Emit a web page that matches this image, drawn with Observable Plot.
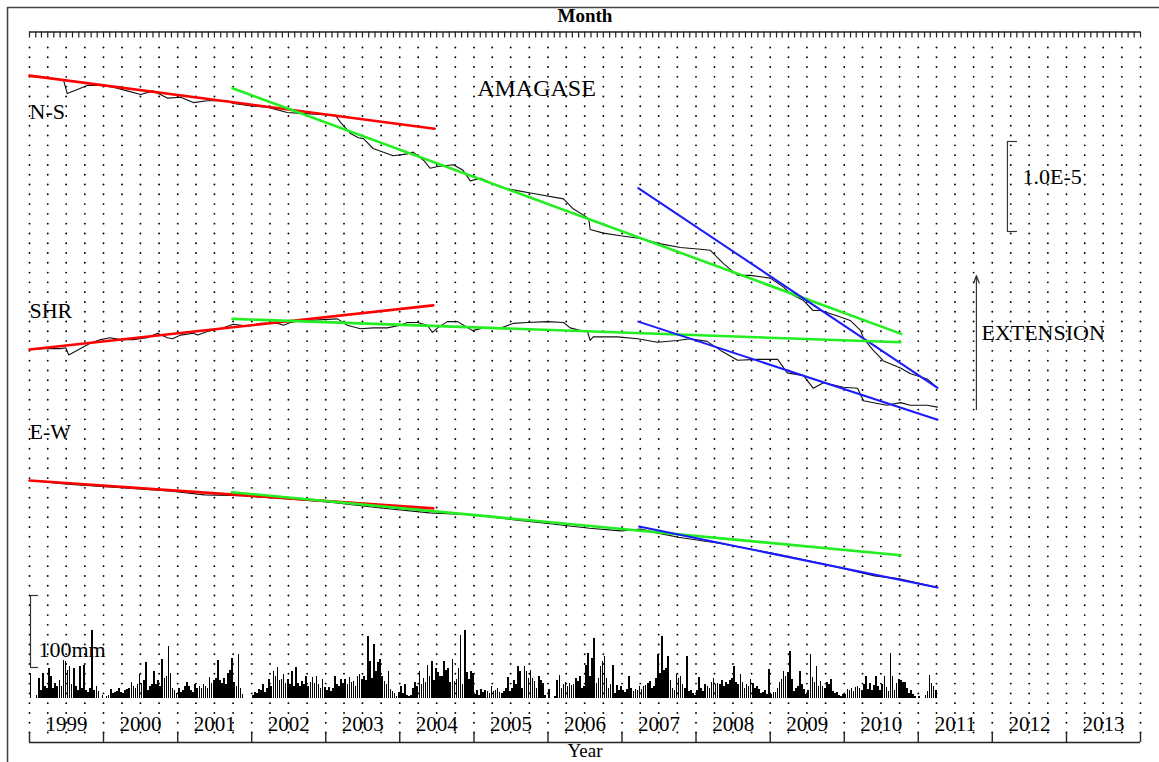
<!DOCTYPE html>
<html><head><meta charset="utf-8">
<script src="https://cdn.jsdelivr.net/npm/d3@7"></script>
<script src="https://cdn.jsdelivr.net/npm/@observablehq/plot@0.6"></script>
<style>body{margin:0;background:#fff;} svg{display:block}</style>
</head><body><div id="chart"></div>
<script>
// ---------- DATA (strain in units of 1e-6, relative to Jan 1999; time in decimal years) ----------
const yearLabels = ["1999","2000","2001","2002","2003","2004","2005","2006","2007","2008","2009","2010","2011","2012","2013"];

const nsTrace = [[1999.00,0],[1999.19,-0.1],[1999.46,-0.4],[1999.51,-1.9],[1999.69,-1.3],[1999.78,-1.0],[1999.96,-1.0],[2000.13,-1.2],[2000.32,-1.6],[2000.50,-2.0],[2000.67,-1.6],[2000.86,-2.4],[2001.04,-2.3],[2001.21,-2.9],[2001.40,-2.7],[2001.67,-2.7],[2001.75,-3.0],[2002.02,-3.3],[2002.21,-3.4],[2002.48,-4.0],[2002.66,-4.1],[2003.13,-4.3],[2003.20,-5.1],[2003.33,-6.3],[2003.44,-6.8],[2003.51,-6.9],[2003.64,-8.0],[2003.91,-8.8],[2004.10,-8.6],[2004.18,-8.4],[2004.32,-9.3],[2004.41,-10.2],[2004.51,-10.0],[2004.72,-9.8],[2004.85,-10.4],[2004.95,-11.6],[2005.09,-11.3],[2005.36,-12.3],[2005.53,-12.6],[2005.80,-13.0],[2006.21,-13.6],[2006.34,-14.7],[2006.48,-15.4],[2006.55,-15.8],[2006.57,-17.0],[2006.75,-17.4],[2006.98,-17.7],[2007.25,-18.0],[2007.52,-18.6],[2007.79,-19.0],[2008.06,-19.2],[2008.19,-19.3],[2008.37,-20.8],[2008.56,-22.1],[2008.73,-22.1],[2009.00,-22.4],[2009.18,-23.4],[2009.27,-24.1],[2009.45,-24.9],[2009.58,-26.0],[2009.68,-26.0],[2009.91,-26.6],[2010.08,-27.1],[2010.22,-28.2],[2010.26,-29.1],[2010.39,-30.4],[2010.53,-31.6],[2010.76,-32.4],[2010.89,-33.0],[2011.12,-33.6],[2011.26,-34.6]];
const shrTrace = [[1999.01,0],[1999.19,0.1],[1999.42,0.1],[1999.49,0.2],[1999.53,-0.6],[1999.69,0.1],[1999.82,0.7],[1999.96,1.1],[2000.09,1.3],[2000.23,1.1],[2000.40,1.1],[2000.59,1.3],[2000.73,1.8],[2000.86,1.3],[2000.93,1.2],[2001.04,1.6],[2001.21,1.8],[2001.27,1.6],[2001.40,2.0],[2001.58,2.3],[2001.75,2.8],[2001.94,2.6],[2002.12,2.9],[2002.35,2.9],[2002.43,2.7],[2002.52,3.0],[2002.66,3.2],[2003.16,3.4],[2003.29,2.7],[2003.47,2.3],[2003.64,2.4],[2003.83,2.4],[2004.01,2.7],[2004.10,3.0],[2004.24,3.0],[2004.37,2.7],[2004.44,1.9],[2004.51,2.4],[2004.64,3.1],[2004.78,3.1],[2004.86,2.7],[2004.98,2.1],[2005.13,2.4],[2005.36,2.4],[2005.53,2.9],[2005.72,3.0],[2005.99,3.1],[2006.21,3.0],[2006.30,2.4],[2006.44,2.1],[2006.53,2.1],[2006.57,1.0],[2006.61,1.4],[2006.94,1.4],[2007.21,1.2],[2007.48,0.8],[2007.75,1.0],[2007.92,1.2],[2008.15,0.9],[2008.33,-0.1],[2008.56,-1.2],[2008.83,-1.1],[2009.10,-1.1],[2009.23,-2.6],[2009.45,-2.9],[2009.58,-4.3],[2009.72,-3.7],[2009.99,-4.2],[2010.18,-4.3],[2010.26,-5.7],[2010.45,-6.0],[2010.58,-6.2],[2010.76,-5.9],[2010.89,-6.2],[2011.12,-6.2],[2011.26,-6.4]];
const ewTrace = [[1999.00,0],[1999.51,-0.4],[2000.23,-0.8],[2000.92,-1.2],[2001.36,-1.6],[2001.85,-1.7],[2002.40,-2.0],[2003.06,-2.4],[2003.68,-3.0],[2004.40,-3.6],[2004.95,-3.8],[2005.36,-4.2],[2006.03,-4.8],[2006.56,-5.3],[2006.98,-5.6],[2007.25,-5.4],[2007.52,-5.9],[2007.76,-6.3],[2008.33,-7.0],[2009.04,-8.1],[2009.68,-9.2],[2010.41,-10.6],[2010.73,-10.9],[2011.26,-11.9]];

// trend lines [start, end] as [year, strain]
const nsRed   = [[1999.00,0.1],[2004.47,-5.8]];
const nsGreen = [[2001.74,-1.3],[2010.77,-28.6]];
const nsBlue  = [[2007.22,-12.4],[2011.26,-34.6]];
const shrRed   = [[1999.00,0.0],[2004.45,4.9]];
const shrGreen = [[2001.74,3.4],[2010.76,0.8]];
const shrBlue  = [[2007.22,3.1],[2011.26,-7.8]];
const ewRed   = [[1999.00,0.0],[2004.45,-3.1]];
const ewGreen = [[2001.73,-1.3],[2010.76,-8.3]];
const ewBlue  = [[2007.23,-5.1],[2011.26,-11.9]];

// rainfall (mm), one value per ten-day period, 36 per year
const rainYears = [1999,2000,2001,2002,2003,2004,2005,2006,2007,2008,2009,2010,2011];
const rain1999 = [35,0,0,4,28,11,35,17,14,42,31,14,21,17,25,17,53,51,39,44,19,42,17,11,44,14,46,11,8,14,95,11,17,10,0,4];
const rain2000 = [0,3,4,13,7,8,10,14,8,7,11,13,14,22,17,14,19,33,21,25,50,11,17,19,38,19,25,17,54,28,31,72,35,14,11,7];
const rain2001 = [14,8,11,17,22,17,11,8,19,14,17,14,19,17,14,29,21,25,28,53,25,21,28,19,35,39,56,22,17,61,14,6,0,0,0,0];
const rain2002 = [4,8,7,13,11,19,8,14,26,17,38,31,43,25,26,33,21,26,19,38,17,43,21,17,24,19,31,17,22,29,21,31,19,14,26,15];
const rain2003 = [11,15,10,14,31,19,17,26,21,26,19,29,22,24,17,31,33,26,31,25,86,51,28,75,38,50,54,31,24,19,38,13,10,7,3,8];
const rain2004 = [17,7,19,4,3,4,14,22,17,38,19,28,22,46,31,51,25,42,36,31,31,51,39,42,22,54,24,26,42,88,19,95,36,26,38,35];
const rain2005 = [6,11,4,13,8,11,10,7,17,10,11,14,8,7,10,14,29,10,14,25,19,44,38,14,44,38,28,39,28,24,14,31,25,21,4,0];
const rain2006 = [13,0,0,3,25,32,14,19,22,17,21,18,19,28,24,31,14,17,46,63,31,56,83,21,28,44,51,58,28,14,19,46,7,18,11,17];
const rain2007 = [11,8,13,31,14,10,13,11,17,13,17,18,21,24,14,17,28,61,35,86,39,42,58,25,14,11,33,28,31,19,14,58,10,11,7,4];
const rain2008 = [11,29,14,10,19,17,14,22,28,19,21,19,25,17,22,19,25,28,44,22,19,33,22,14,19,17,26,21,14,17,13,7,8,11,6,40];
const rain2009 = [6,8,8,14,22,26,38,31,36,65,26,10,14,17,38,19,13,6,11,61,29,22,44,17,24,17,14,22,19,26,10,7,8,4,3,6];
const rain2010 = [6,13,11,14,10,15,17,14,11,19,31,13,21,11,18,31,17,11,19,31,15,10,63,31,11,21,26,25,22,22,14,7,11,6,3,0];
const rain2011 = [3,0,0,4,10,32,21,17,11];
const rainByYear = [rain1999,rain2000,rain2001,rain2002,rain2003,rain2004,rain2005,rain2006,rain2007,rain2008,rain2009,rain2010,rain2011];

// ---------- LAYOUT ----------
const W = 1159, H = 762, ML = 29, MR = 19, MT = 31, MB = 20;
const PX = 9;                       // pixels per 1e-6 strain
const yPx = p => -p / PX;           // layout helper: a vertical page position in strain units
const pxYear = p => 1999 + (p - ML) / ((W - ML - MR) / 15);
function dy(t) {
  const y = Math.floor(t);
  const a = Date.UTC(y, 0, 1), b = Date.UTC(y + 1, 0, 1);
  return new Date(a + (t - y) * (b - a));
}
const NS_BASE = yPx(76), SHR_BASE = yPx(349), EW_BASE = yPx(480);
const RAIN_BASE = yPx(698), RAIN_K = 0.72 / PX;   // 100 mm = 72 px

const rainRows = [];
rainYears.forEach((yr, i) => rainByYear[i].forEach((mm, k) => rainRows.push({date: dy(yr + (k + 0.5) / 36), mm})));

const quarters = d3.utcMonth.every(3).range(dy(1999), dy(2014.001));
const months = d3.utcMonth.range(dy(1999), dy(2014.001));
const yearStarts = d3.range(1999, 2015).map(y => dy(y));
const grid = [];
for (let i = 0; i <= 70; i++) for (const q of quarters) grid.push({x: q, y: yPx(47 + i * 9.786)});

const serif = "'Liberation Serif','DejaVu Serif',serif";
const XY = d => dy(d[0]);
const line = (arr, base, color, w) => Plot.line(arr, {x: XY, y: d => base + d[1], stroke: color, strokeWidth: w});
const label = (txt, px, py, size, anchor="start") =>
  Plot.text([txt], {x: () => dy(pxYear(px)), y: () => yPx(py), text: d => d, fontSize: size, textAnchor: anchor, fill: "#000"});

const chart = Plot.plot({
  width: W, height: H, marginLeft: ML, marginRight: MR, marginTop: MT, marginBottom: MB,
  x: {type: "utc", domain: [dy(1999), dy(2014)], axis: null},
  y: {domain: [yPx(H - MB), yPx(MT)], axis: null},
  style: {fontFamily: serif, background: "white"},
  marks: [
    // outer border
    Plot.ruleX([0], {x: () => dy(pxYear(7)), y1: () => yPx(7), y2: () => yPx(800), stroke: "#444", strokeWidth: 1.6}),
    Plot.ruleY([0], {y: () => yPx(7), x1: () => dy(pxYear(7)), x2: () => dy(pxYear(1200)), stroke: "#444", strokeWidth: 1.6}),
    // dotted grid
    Plot.dot(grid, {x: "x", y: "y", r: 0.95, fill: "#000", stroke: null}),
    // month axis on top
    Plot.ruleY([0], {y: () => yPx(31.5), x1: () => dy(1999), x2: () => dy(2014), stroke: "#222", strokeWidth: 1.4}),
    Plot.ruleX(months, {x: d => d, y1: () => yPx(31.5), y2: () => yPx(37.5), stroke: "#222", strokeWidth: 1.2}),
    Plot.text(["Month"], {frameAnchor: "top", dy: -16, lineAnchor: "middle", text: d => d, fontSize: 19, fontWeight: "bold", fill: "#000"}),
    // year axis at bottom
    Plot.ruleY([0], {y: () => yPx(742), x1: () => dy(1999), x2: () => dy(2014), stroke: "#222", strokeWidth: 1.4}),
    Plot.ruleX(yearStarts, {x: d => d, y1: () => yPx(742), y2: () => yPx(732), stroke: "#222", strokeWidth: 1.4}),
    Plot.text(yearLabels, {x: d => dy(+d + 0.5), y: () => yPx(724), text: d => d, fontSize: 21, fill: "#000"}),
    Plot.text(["Year"], {frameAnchor: "bottom", dy: 8, lineAnchor: "middle", text: d => d, fontSize: 19, fill: "#000"}),
    // rainfall
    Plot.ruleX(rainRows, {x: "date", y1: () => RAIN_BASE, y2: d => RAIN_BASE + d.mm * RAIN_K, stroke: "#000", strokeWidth: 1.6, shapeRendering: "crispEdges"}),
    // strain traces
    line(nsTrace, NS_BASE, "#111", 1.1),
    line(shrTrace, SHR_BASE, "#111", 1.1),
    line(ewTrace, EW_BASE, "#111", 1.1),
    // trend lines
    line(nsRed, NS_BASE, "#ff0000", 2.6), line(nsGreen, NS_BASE, "#22ee22", 2.6), line(nsBlue, NS_BASE, "#1a1aff", 2),
    line(shrRed, SHR_BASE, "#ff0000", 2.6), line(shrGreen, SHR_BASE, "#22ee22", 2.6), line(shrBlue, SHR_BASE, "#1a1aff", 2),
    line(ewRed, EW_BASE, "#ff0000", 2.6), line(ewGreen, EW_BASE, "#22ee22", 2.6), line(ewBlue, EW_BASE, "#1a1aff", 2),
    // labels
    label("N-S", 29, 111, 22), label("SHR", 29, 310, 22), label("E-W", 29, 431, 22),
    label("AMAGASE", 536, 88, 24, "middle"),
    label("1.0E-5", 1022, 176, 22), label("EXTENSION", 981, 332, 22), label("100mm", 38, 649, 22),
    // strain scale bar (1.0E-5 = 10 units)
    Plot.ruleX([0], {x: () => dy(pxYear(1007)), y1: () => yPx(141), y2: () => yPx(141) - 10, stroke: "#333", strokeWidth: 1.2}),
    Plot.ruleY([yPx(141), yPx(141) - 10], {y: d => d, x1: () => dy(pxYear(1007)), x2: () => dy(pxYear(1017)), stroke: "#333", strokeWidth: 1.2}),
    // rainfall scale bar (100 mm)
    Plot.ruleX([0], {x: () => dy(pxYear(30)), y1: () => yPx(595), y2: () => yPx(595) - 100 * RAIN_K, stroke: "#333", strokeWidth: 1.2}),
    Plot.ruleY([yPx(595), yPx(595) - 100 * RAIN_K], {y: d => d, x1: () => dy(pxYear(30)), x2: () => dy(pxYear(38)), stroke: "#333", strokeWidth: 1.2}),
    // extension arrow
    Plot.arrow([0], {x1: () => dy(pxYear(976)), y1: () => yPx(409), x2: () => dy(pxYear(976)), y2: () => yPx(275), stroke: "#333", strokeWidth: 1.2, headLength: 10, headAngle: 40})
  ]
});
document.getElementById("chart").appendChild(chart);
</script>
</body></html>
